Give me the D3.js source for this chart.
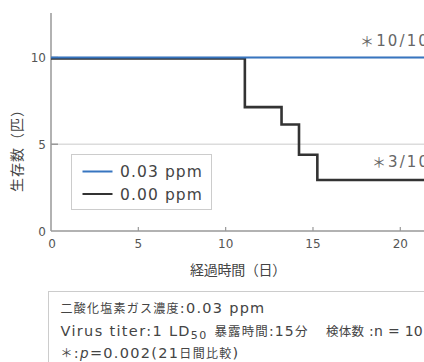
<!DOCTYPE html>
<html>
<head>
<meta charset="utf-8">
<script src="https://cdn.jsdelivr.net/npm/d3@7"></script>
<style>
  body { margin: 0; background: #fff; }
  svg { display: block; font-family: "DejaVu Sans", "Noto Sans CJK JP", sans-serif; }
</style>
</head>
<body>
<div id="chart"></div>
<script>
// data
var seriesNames = ["0.03 ppm", "0.00 ppm"];
var days03 = [0, 22];
var alive03 = [10, 10];
var days00 = [0, 11.1, 13.2, 14.2, 15.25, 22];
var alive00 = [10, 7.2, 6.2, 4.45, 3, 3];
var xTicks = [0, 5, 10, 15, 20];
var yTicks = [0, 5, 10];
var endLabels = ["＊10/10", "＊3/10"];
var endValues = [10, 3];

var W = 424, H = 362;

var x = d3.scaleLinear().domain([0, 20]).range([51, 400.3]);
var y = d3.scaleLinear().domain([0, 10]).range([231, 57.5]);

var svg = d3.select("#chart").append("svg")
    .attr("width", W)
    .attr("height", H);

// writes a string as tspans: japanese runs in the CJK font, the rest in latin
var cjk = /[\u3000-\u9fff\uff00-\uffef]+|[^\u3000-\u9fff\uff00-\uffef]+/g;
function mixed(sel, str, latinSize, cjkSize) {
    str.match(cjk).forEach(function(run) {
        var isCjk = /[\u3000-\u9fff\uff00-\uffef]/.test(run);
        sel.append("tspan")
            .style("font-family", isCjk ? "'Noto Sans CJK JP'" : "'DejaVu Sans'")
            .style("font-size", (isCjk ? cjkSize : latinSize) + "px")
            .text(run);
    });
    return sel;
}

// spread the letters so a text is as wide as in the picture
function fit(sel, width) {
    var n = sel.text().length;
    var w = sel.node().getComputedTextLength();
    var ls = (width - w) / n;
    sel.style("letter-spacing", ls + "px");
    sel.selectAll("tspan").style("letter-spacing", ls + "px");
    return sel;
}

svg.selectAll(".grid")
    .data([5, 10])
    .enter().append("line")
    .attr("x1", x(0)).attr("x2", W)
    .attr("y1", function(d) { return y(d); })
    .attr("y2", function(d) { return y(d); })
    .style("stroke", "#dcdcdc")
    .style("stroke-width", 1.5);

// axes
svg.append("line")
    .attr("x1", x(0)).attr("x2", x(0))
    .attr("y1", 13).attr("y2", y(0))
    .style("stroke", "#999").style("stroke-width", 1.5);
svg.append("line")
    .attr("x1", x(0)).attr("x2", W)
    .attr("y1", y(0)).attr("y2", y(0))
    .style("stroke", "#999").style("stroke-width", 1.5);

svg.selectAll(".xtick")
    .data(xTicks.slice(1))
    .enter().append("line")
    .attr("x1", function(d) { return x(d); })
    .attr("x2", function(d) { return x(d); })
    .attr("y1", y(0)).attr("y2", y(0) - 4)
    .style("stroke", "#999").style("stroke-width", 1.2);

svg.selectAll(".ytick")
    .data(yTicks.slice(1))
    .enter().append("line")
    .attr("x1", x(0)).attr("x2", x(0) + 7)
    .attr("y1", function(d) { return y(d); })
    .attr("y2", function(d) { return y(d); })
    .style("stroke", "#999").style("stroke-width", 1.5);

svg.selectAll(".xlab")
    .data(xTicks)
    .enter().append("text")
    .attr("x", function(d) { return x(d) + (d == 0 ? 1 : 0); })
    .attr("y", y(0) + 17)
    .style("text-anchor", "middle")
    .style("font-size", "12px")
    .style("fill", "#555")
    .text(function(d) { return d; });

svg.selectAll(".ylab")
    .data(yTicks)
    .enter().append("text")
    .attr("x", x(0) - 5)
    .attr("y", function(d) { return y(d) + 4.5; })
    .style("text-anchor", "end")
    .style("font-size", "12px")
    .style("fill", "#555")
    .text(function(d) { return d; });

var xTitle = svg.append("text")
    .attr("x", 190).attr("y", 275)
    .style("font-family", "'Noto Sans CJK JP'")
    .style("font-size", "14px")
    .style("fill", "#444")
    .text("経過時間（日）");
fit(xTitle, 96);

var yTitle = svg.append("text")
    .attr("transform", "translate(22,192) rotate(-90)")
    .style("font-family", "'Noto Sans CJK JP'")
    .style("font-size", "14px")
    .style("fill", "#444")
    .text("生存数（匹）");
fit(yTitle, 90);

// survival lines
var line = d3.line()
    .curve(d3.curveStepAfter)
    .x(function(d) { return x(d[0]); })
    .y(function(d) { return y(d[1]); });

svg.append("path")
    .datum(d3.zip(days00, alive00))
    .attr("d", line)
    .attr("transform", "translate(0,1)")
    .style("fill", "none")
    .style("stroke", "#333")
    .style("stroke-width", 2.6);

svg.append("path")
    .datum(d3.zip(days03, alive03))
    .attr("d", line)
    .style("fill", "none")
    .style("stroke", "#3775c0")
    .style("stroke-width", 2);

var endStart = [360, 372];
endLabels.forEach(function(lab, i) {
    var t = svg.append("text")
        .attr("x", endStart[i]).attr("y", y(endValues[i]) - 11.5)
        .style("fill", "#666");
    mixed(t, lab, 15, 14);
    fit(t, 430 - endStart[i]);
});

// legend
var legend = svg.append("g").attr("transform", "translate(71.5,154.5)");
legend.append("rect")
    .attr("width", 140).attr("height", 55)
    .style("fill", "#fff")
    .style("stroke", "#ccc");
var legColors = ["#3775c0", "#333"];
seriesNames.forEach(function(name, i) {
    legend.append("line")
        .attr("x1", 11).attr("x2", 41)
        .attr("y1", 17 + i * 22.5).attr("y2", 17 + i * 22.5)
        .style("stroke", legColors[i])
        .style("stroke-width", 2);
    var t = legend.append("text")
        .attr("x", 48.5).attr("y", 22.5 + i * 22.5)
        .style("font-size", "15.5px")
        .style("fill", "#444")
        .text(name);
    fit(t, 83);
});

// note box
var note = svg.append("g").attr("transform", "translate(48.5,291.5)");
note.append("rect")
    .attr("width", 400).attr("height", 80)
    .style("fill", "#fff")
    .style("stroke", "#ccc");
var ink = "#444";
fit(mixed(note.append("text").attr("x", 12).attr("y", 21).style("fill", ink),
    "二酸化塩素ガス濃度:0.03 ppm", 14.5, 12), 205);
var l2 = mixed(note.append("text").attr("x", 12).attr("y", 44.5).style("fill", ink),
    "Virus titer:1 LD", 14.5, 12);
l2.append("tspan").attr("dy", 3).style("font-size", "11px").text("50");
fit(l2, 147);
fit(mixed(note.append("text").attr("x", 166).attr("y", 44.5).style("fill", ink),
    "暴露時間:15分", 14, 12.5), 94);
fit(mixed(note.append("text").attr("x", 277.5).attr("y", 44.5).style("fill", ink),
    "検体数 :n = 10", 14, 12.5), 97);
var l3 = note.append("text").attr("x", 12).attr("y", 66.5).style("fill", ink);
mixed(l3, "＊:", 14.5, 12);
l3.append("tspan").style("font-style", "italic").style("font-size", "13.5px").text("p");
mixed(l3, "=0.002(21日間比較)", 14.5, 12);
fit(l3, 179);
</script>
</body>
</html>
